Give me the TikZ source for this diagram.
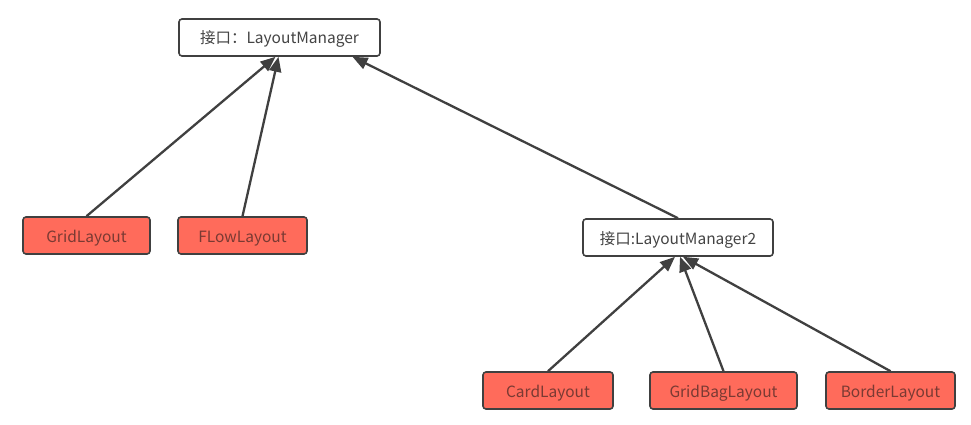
\documentclass[tikz,border=0pt]{standalone}
\usepackage{fontspec}
\setmainfont{Noto Sans CJK SC}
\usetikzlibrary{arrows.meta,calc}
\definecolor{edgegray}{HTML}{404040}
\definecolor{boxfill}{HTML}{FF6B5B}
\definecolor{redtext}{HTML}{7A3A33}
\definecolor{iftext}{HTML}{444444}
\tikzset{
  base/.style={draw=edgegray, line width=1.6pt, rounded corners=3pt, minimum height=37pt, inner sep=0pt, text height=14pt, text depth=1pt, font=\fontsize{15.5}{17}\selectfont},
  iface/.style={base, fill=white, text=iftext},
  impl/.style={base, fill=boxfill, text=redtext},
  inherit/.style={draw=edgegray, line width=2.3pt, -{Triangle[length=15pt,width=12pt]}},
}
\begin{document}
\begin{tikzpicture}[x=1pt,y=-1pt]
\useasboundingbox (0,0) rectangle (971,425);
\node[iface, minimum width=201pt] (lm) at (279.5,37.5) {接口：LayoutManager};
\node[impl, minimum width=127pt] (grid) at (86.5,235.5) {GridLayout};
\node[impl, minimum width=129pt] (flow) at (242.5,235.5) {FLowLayout};
\node[iface, minimum width=190pt] (lm2) at (678,237.5) {接口:LayoutManager2};
\node[impl, minimum width=130pt] (card) at (548,390.5) {CardLayout};
\node[impl, minimum width=147pt] (gbag) at (723.5,390.5) {GridBagLayout};
\node[impl, minimum width=129pt] (border) at (890.5,390.5) {BorderLayout};
\coordinate (t1) at ($(lm.south)+(-4,0)$);
\coordinate (t2) at ($(lm.south)+(-1,0)$);
\coordinate (t3) at ($(lm.south)+(73,0)$);
\coordinate (u1) at ($(lm2.south)+(-3,0)$);
\coordinate (u2) at ($(lm2.south)+(2,0)$);
\coordinate (u3) at ($(lm2.south)+(5,0)$);
\draw[inherit] (grid.north) -- (t1);
\draw[inherit] (flow.north) -- (t2);
\draw[inherit] (lm2.north) -- (t3);
\draw[inherit] (card.north) -- (u1);
\draw[inherit] (gbag.north) -- (u2);
\draw[inherit] (border.north) -- (u3);
\end{tikzpicture}
\end{document}
